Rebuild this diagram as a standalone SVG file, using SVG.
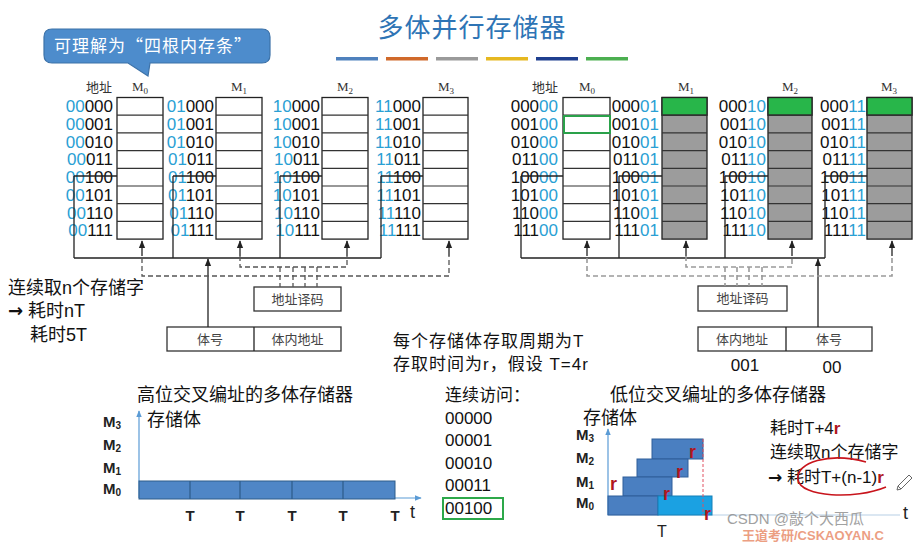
<svg xmlns="http://www.w3.org/2000/svg" width="918" height="542" viewBox="0 0 918 542">
<defs>
<marker id="ah" viewBox="0 0 10 10" refX="9" refY="5" markerWidth="6" markerHeight="6" orient="auto"><path d="M0,1 L10,5 L0,9 z" fill="#222"/></marker>
<marker id="ahb" viewBox="0 0 10 10" refX="9" refY="5" markerWidth="6" markerHeight="6" orient="auto"><path d="M0,1 L10,5 L0,9 z" fill="#5b9bd5"/></marker>
</defs>
<style>
.addr{font-family:"Liberation Sans","DejaVu Sans",sans-serif;font-size:17px;fill:#111;text-anchor:end}
.c{fill:#2aa0d4}
.box{fill:#fff;stroke:#222;stroke-width:1.3}
.gbox{fill:#9c9c9c;stroke:#222;stroke-width:1.3}
.grn{fill:#28b64a;stroke:#222;stroke-width:1.3}
.rl{fill:none;stroke:#333;stroke-width:1.2}
.hdr{font-family:"Liberation Serif","Noto Sans CJK SC",serif;font-size:13px;fill:#333;text-anchor:middle}
.zh{font-family:"Liberation Sans","Noto Sans CJK SC",sans-serif;fill:#111}
.ar{font-family:"DejaVu Sans",sans-serif;font-weight:bold}
.ln{fill:none;stroke:#222;stroke-width:1.3}
.dl{fill:none;stroke:#555;stroke-width:1.3;stroke-dasharray:5 3}
.dg{fill:none;stroke:#9a9a9a;stroke-width:1.6;stroke-dasharray:5 3}
.dbox{fill:#fff;stroke:#333;stroke-width:1.3}
.bt{font-family:"Noto Sans CJK SC",sans-serif;font-size:13px;fill:#444;text-anchor:middle}
.ml{font-family:"Liberation Sans",sans-serif;font-size:15px;font-weight:bold;fill:#222}
.red{fill:#b0161e;font-weight:bold}
.num{font-family:"Liberation Sans",sans-serif;font-size:17px;fill:#111}
</style>
<rect width="918" height="542" fill="#fff"/>

<g id="callout">
<path d="M52,29 H262 Q270,29 270,37 V55 Q270,63 262,63 H150 L148,76 L128,63 H52 Q44,63 44,55 V37 Q44,29 52,29 Z" fill="#4d8ccc" stroke="#3d72a8" stroke-width="1.2"/>
<text x="54" y="52" font-family="Noto Sans CJK SC,sans-serif" font-size="17" fill="#fff" letter-spacing="1">可理解为“四根内存条”</text>
</g>

<g id="title">
<text x="472" y="37" text-anchor="middle" font-family="Noto Sans CJK SC,sans-serif" font-size="26" fill="#2e74b5" letter-spacing="1">多体并行存储器</text>
<rect x="336" y="57" width="42" height="3.5" fill="#4f81bd"/>
<rect x="386" y="57" width="42" height="3.5" fill="#d0692a"/>
<rect x="436" y="57" width="42" height="3.5" fill="#9a9a9a"/>
<rect x="486" y="57" width="42" height="3.5" fill="#e6b820"/>
<rect x="536" y="57" width="42" height="3.5" fill="#1f3f8f"/>
<rect x="586" y="57" width="42" height="3.5" fill="#4caf50"/>
</g>

<g id="L-M0">
<text class="hdr" x="99" y="92" font-size="12">地址</text>
<text class="hdr" x="140" y="91" font-size="14">M<tspan font-size="9" dy="3">0</tspan></text>
<rect class="box" x="117" y="97.5" width="46" height="141.6"/>
<path class="rl" d="M117 115.2H163M117 132.9H163M117 150.6H163M117 168.3H163M117 186H163M117 203.7H163M117 221.4H163"/>
<text class="addr" x="113" y="112.3"><tspan class="c">00</tspan>000</text>
<text class="addr" x="113" y="130"><tspan class="c">00</tspan>001</text>
<text class="addr" x="113" y="147.7"><tspan class="c">00</tspan>010</text>
<text class="addr" x="113" y="165.4"><tspan class="c">00</tspan>011</text>
<text class="addr" x="113" y="183.1"><tspan class="c">00</tspan>100</text>
<text class="addr" x="113" y="200.8"><tspan class="c">00</tspan>101</text>
<text class="addr" x="113" y="218.5"><tspan class="c">00</tspan>110</text>
<text class="addr" x="113" y="236.2"><tspan class="c">00</tspan>111</text>
</g>
<g id="L-M1">
<text class="hdr" x="239" y="91" font-size="14">M<tspan font-size="9" dy="3">1</tspan></text>
<rect class="box" x="216" y="97.5" width="46" height="141.6"/>
<path class="rl" d="M216 115.2H262M216 132.9H262M216 150.6H262M216 168.3H262M216 186H262M216 203.7H262M216 221.4H262"/>
<text class="addr" x="214" y="112.3"><tspan class="c">01</tspan>000</text>
<text class="addr" x="214" y="130"><tspan class="c">01</tspan>001</text>
<text class="addr" x="214" y="147.7"><tspan class="c">01</tspan>010</text>
<text class="addr" x="214" y="165.4"><tspan class="c">01</tspan>011</text>
<text class="addr" x="214" y="183.1"><tspan class="c">01</tspan>100</text>
<text class="addr" x="214" y="200.8"><tspan class="c">01</tspan>101</text>
<text class="addr" x="214" y="218.5"><tspan class="c">01</tspan>110</text>
<text class="addr" x="214" y="236.2"><tspan class="c">01</tspan>111</text>
</g>
<g id="L-M2">
<text class="hdr" x="345" y="91" font-size="14">M<tspan font-size="9" dy="3">2</tspan></text>
<rect class="box" x="322" y="97.5" width="46" height="141.6"/>
<path class="rl" d="M322 115.2H368M322 132.9H368M322 150.6H368M322 168.3H368M322 186H368M322 203.7H368M322 221.4H368"/>
<text class="addr" x="320" y="112.3"><tspan class="c">10</tspan>000</text>
<text class="addr" x="320" y="130"><tspan class="c">10</tspan>001</text>
<text class="addr" x="320" y="147.7"><tspan class="c">10</tspan>010</text>
<text class="addr" x="320" y="165.4"><tspan class="c">10</tspan>011</text>
<text class="addr" x="320" y="183.1"><tspan class="c">10</tspan>100</text>
<text class="addr" x="320" y="200.8"><tspan class="c">10</tspan>101</text>
<text class="addr" x="320" y="218.5"><tspan class="c">10</tspan>110</text>
<text class="addr" x="320" y="236.2"><tspan class="c">10</tspan>111</text>
</g>
<g id="L-M3">
<text class="hdr" x="446" y="91" font-size="14">M<tspan font-size="9" dy="3">3</tspan></text>
<rect class="box" x="423" y="97.5" width="45" height="141.6"/>
<path class="rl" d="M423 115.2H468M423 132.9H468M423 150.6H468M423 168.3H468M423 186H468M423 203.7H468M423 221.4H468"/>
<text class="addr" x="421" y="112.3"><tspan class="c">11</tspan>000</text>
<text class="addr" x="421" y="130"><tspan class="c">11</tspan>001</text>
<text class="addr" x="421" y="147.7"><tspan class="c">11</tspan>010</text>
<text class="addr" x="421" y="165.4"><tspan class="c">11</tspan>011</text>
<text class="addr" x="421" y="183.1"><tspan class="c">11</tspan>100</text>
<text class="addr" x="421" y="200.8"><tspan class="c">11</tspan>101</text>
<text class="addr" x="421" y="218.5"><tspan class="c">11</tspan>110</text>
<text class="addr" x="421" y="236.2"><tspan class="c">11</tspan>111</text>
</g>
<g id="L-decoder">
<rect class="dbox" x="254" y="287" width="87" height="24"/>
<text class="bt" x="297.5" y="304">地址译码</text>
</g>
<g id="L-addrreg">
<rect class="dbox" x="167" y="327" width="174" height="24"/>
<path class="ln" d="M254 327V351"/>
<text class="bt" x="210" y="344">体号</text>
<text class="bt" x="297.5" y="344">体内地址</text>
</g>

<g id="L-connectors">
<path class="ln" d="M74 176V258M173 176V258M280 176V258M381 176V258M74 176H117M173 176H216M280 176H322M381 176H423M74 258H381"/>
<path class="ln" d="M208 327V259" marker-end="url(#ah)"/>
<path class="ln" d="M142 256V241" marker-end="url(#ah)"/>
<path class="ln" d="M240 256V241" marker-end="url(#ah)"/>
<path class="ln" d="M347 256V241" marker-end="url(#ah)"/>
<path class="ln" d="M449 256V241" marker-end="url(#ah)"/>
<path class="dl" d="M142 258V276H449V256M240 256V267H347V256M280 267V287M293 267V287M305 267V287M317 267V287"/>
</g>

<g id="L-notes">
<text class="zh" x="8" y="294" font-size="18">连续取n个存储字</text>
<text class="zh" x="8" y="317" font-size="18"><tspan class="ar">→</tspan> 耗时nT</text>
<text class="zh" x="30" y="341" font-size="18">耗时5T</text>
</g>

<g id="R-M0">
<text class="hdr" x="545" y="92" font-size="12">地址</text>
<text class="hdr" x="587" y="91" font-size="14">M<tspan font-size="9" dy="3">0</tspan></text>
<rect class="box" x="563" y="97.5" width="47" height="141.6"/>
<path class="rl" d="M563 115.2H610M563 132.9H610M563 150.6H610M563 168.3H610M563 186H610M563 203.7H610M563 221.4H610"/>
<rect x="564" y="116" width="46" height="17" fill="none" stroke="#2aa14a" stroke-width="2"/>
<text class="addr" x="558" y="112.3">000<tspan class="c">00</tspan></text>
<text class="addr" x="558" y="130">001<tspan class="c">00</tspan></text>
<text class="addr" x="558" y="147.7">010<tspan class="c">00</tspan></text>
<text class="addr" x="558" y="165.4">011<tspan class="c">00</tspan></text>
<text class="addr" x="558" y="183.1">100<tspan class="c">00</tspan></text>
<text class="addr" x="558" y="200.8">101<tspan class="c">00</tspan></text>
<text class="addr" x="558" y="218.5">110<tspan class="c">00</tspan></text>
<text class="addr" x="558" y="236.2">111<tspan class="c">00</tspan></text>
</g>
<g id="R-M1">
<text class="hdr" x="686" y="91" font-size="14">M<tspan font-size="9" dy="3">1</tspan></text>
<rect class="gbox" x="662" y="97.5" width="45" height="141.6"/>
<rect class="grn" x="662" y="97.5" width="45" height="17.7"/>
<path class="rl" d="M662 115.2H707M662 132.9H707M662 150.6H707M662 168.3H707M662 186H707M662 203.7H707M662 221.4H707"/>
<text class="addr" x="659" y="112.3">000<tspan class="c">01</tspan></text>
<text class="addr" x="659" y="130">001<tspan class="c">01</tspan></text>
<text class="addr" x="659" y="147.7">010<tspan class="c">01</tspan></text>
<text class="addr" x="659" y="165.4">011<tspan class="c">01</tspan></text>
<text class="addr" x="659" y="183.1">100<tspan class="c">01</tspan></text>
<text class="addr" x="659" y="200.8">101<tspan class="c">01</tspan></text>
<text class="addr" x="659" y="218.5">110<tspan class="c">01</tspan></text>
<text class="addr" x="659" y="236.2">111<tspan class="c">01</tspan></text>
</g>
<g id="R-M2">
<text class="hdr" x="790" y="91" font-size="14">M<tspan font-size="9" dy="3">2</tspan></text>
<rect class="gbox" x="768" y="97.5" width="44" height="141.6"/>
<rect class="grn" x="768" y="97.5" width="44" height="17.7"/>
<path class="rl" d="M768 115.2H812M768 132.9H812M768 150.6H812M768 168.3H812M768 186H812M768 203.7H812M768 221.4H812"/>
<text class="addr" x="766" y="112.3">000<tspan class="c">10</tspan></text>
<text class="addr" x="766" y="130">001<tspan class="c">10</tspan></text>
<text class="addr" x="766" y="147.7">010<tspan class="c">10</tspan></text>
<text class="addr" x="766" y="165.4">011<tspan class="c">10</tspan></text>
<text class="addr" x="766" y="183.1">100<tspan class="c">10</tspan></text>
<text class="addr" x="766" y="200.8">101<tspan class="c">10</tspan></text>
<text class="addr" x="766" y="218.5">110<tspan class="c">10</tspan></text>
<text class="addr" x="766" y="236.2">111<tspan class="c">10</tspan></text>
</g>
<g id="R-M3">
<text class="hdr" x="889" y="91" font-size="14">M<tspan font-size="9" dy="3">3</tspan></text>
<rect class="gbox" x="867" y="97.5" width="45" height="141.6"/>
<rect class="grn" x="867" y="97.5" width="45" height="17.7"/>
<path class="rl" d="M867 115.2H912M867 132.9H912M867 150.6H912M867 168.3H912M867 186H912M867 203.7H912M867 221.4H912"/>
<text class="addr" x="866" y="112.3">000<tspan class="c">11</tspan></text>
<text class="addr" x="866" y="130">001<tspan class="c">11</tspan></text>
<text class="addr" x="866" y="147.7">010<tspan class="c">11</tspan></text>
<text class="addr" x="866" y="165.4">011<tspan class="c">11</tspan></text>
<text class="addr" x="866" y="183.1">100<tspan class="c">11</tspan></text>
<text class="addr" x="866" y="200.8">101<tspan class="c">11</tspan></text>
<text class="addr" x="866" y="218.5">110<tspan class="c">11</tspan></text>
<text class="addr" x="866" y="236.2">111<tspan class="c">11</tspan></text>
</g>
<g id="R-decoder">
<rect class="dbox" x="698" y="286" width="89" height="25"/>
<text class="bt" x="742.5" y="303">地址译码</text>
</g>
<g id="R-addrreg">
<rect class="dbox" x="698" y="327" width="174" height="24"/>
<path class="ln" d="M786 327V351"/>
<text class="bt" x="742" y="344">体内地址</text>
<text class="bt" x="829" y="344">体号</text>
<text class="num" x="745" y="371" text-anchor="middle">001</text>
<text class="num" x="832" y="373" text-anchor="middle" fill="#2aa0d4">00</text>
</g>

<g id="R-connectors">
<path class="ln" d="M521 176V258M619 176V258M725 176V258M825 176V258M521 176H563M619 176H662M725 176H768M825 176H867M521 258H825"/>
<path class="ln" d="M818 327V259" marker-end="url(#ah)"/>
<path class="ln" d="M587 256V241" marker-end="url(#ah)"/>
<path class="ln" d="M686 256V241" marker-end="url(#ah)"/>
<path class="ln" d="M792 256V241" marker-end="url(#ah)"/>
<path class="ln" d="M892 256V241" marker-end="url(#ah)"/>
<path class="dg" d="M587 258V276H892V256M686 256V267H792V256M725 267V286M737 267V286M749 267V286M762 267V286"/>
</g>

<g id="mid-notes">
<text class="zh" x="393" y="347" font-size="17" letter-spacing="1">每个存储体存取周期为T</text>
<text class="zh" x="393" y="370" font-size="17" letter-spacing="1">存取时间为r，假设 T=4r</text>
<text class="zh" x="445" y="401" font-size="17">连续访问：</text>
<text class="num" x="445" y="424">00000</text>
<text class="num" x="445" y="446">00001</text>
<text class="num" x="445" y="469">00010</text>
<text class="num" x="445" y="491">00011</text>
<text class="num" x="445" y="514">00100</text>
<rect x="443" y="498" width="60" height="21" fill="none" stroke="#2da84a" stroke-width="2"/>
</g>

<g id="chart-high">
<text class="zh" x="137" y="401" font-size="18">高位交叉编址的多体存储器</text>
<text class="zh" x="147" y="426" font-size="18">存储体</text>
<text class="ml" x="103" y="427">M<tspan font-size="10" dy="2">3</tspan></text>
<text class="ml" x="103" y="450">M<tspan font-size="10" dy="2">2</tspan></text>
<text class="ml" x="103" y="473">M<tspan font-size="10" dy="2">1</tspan></text>
<text class="ml" x="103" y="494">M<tspan font-size="10" dy="2">0</tspan></text>
<path d="M139 498V411" stroke="#5b9bd5" stroke-width="1.2" marker-end="url(#ahb)"/>
<path d="M139 498H421" stroke="#5b9bd5" stroke-width="1.2" marker-end="url(#ahb)"/>
<rect x="139" y="481" width="256" height="18" fill="#4f86c6" stroke="#2e5c8a" stroke-width="1"/>
<path d="M190 481V499M240 481V499M292 481V499M343 481V499" stroke="#2e5c8a" stroke-width="1.2"/>
<g font-family="Liberation Sans,sans-serif" font-size="15" font-weight="bold" fill="#222" text-anchor="middle">
<text x="190" y="521">T</text><text x="240" y="521">T</text><text x="292" y="521">T</text><text x="343" y="521">T</text><text x="395" y="521">T</text>
</g>
<text x="410" y="518" font-family="Liberation Sans,sans-serif" font-size="18" fill="#222">t</text>
</g>

<g id="chart-low">
<text class="zh" x="610" y="401" font-size="18">低位交叉编址的多体存储器</text>
<text class="zh" x="583" y="424" font-size="18">存储体</text>
<text class="ml" x="576" y="440">M<tspan font-size="10" dy="2">3</tspan></text>
<text class="ml" x="576" y="463">M<tspan font-size="10" dy="2">2</tspan></text>
<text class="ml" x="576" y="487">M<tspan font-size="10" dy="2">1</tspan></text>
<text class="ml" x="576" y="508">M<tspan font-size="10" dy="2">0</tspan></text>
<path d="M608 515V429" stroke="#5b9bd5" stroke-width="1.2" marker-end="url(#ahb)"/>
<path d="M608 515H900" stroke="#b8cfe6" stroke-width="1.2"/>
<rect x="652" y="439" width="51" height="20" fill="#4a7fc1" stroke="#2f5f9a"/>
<rect x="637" y="459" width="51" height="18" fill="#4a7fc1" stroke="#2f5f9a"/>
<rect x="623" y="477" width="49" height="19" fill="#4a7fc1" stroke="#2f5f9a"/>
<rect x="608" y="496" width="50" height="19" fill="#4a7fc1" stroke="#2f5f9a"/>
<rect x="658" y="496" width="54" height="19" fill="#1ba1e2" stroke="#1580b8"/>
<path d="M703 439V515" stroke="#e05060" stroke-width="1" stroke-dasharray="3 2"/>
<g font-family="Liberation Sans,sans-serif" font-size="18" class="red">
<text x="610" y="490">r</text>
<text x="663" y="500">r</text>
<text x="676" y="478">r</text>
<text x="689" y="458">r</text>
<text x="704" y="520">r</text>
</g>
<text x="662" y="537" text-anchor="middle" font-family="Liberation Sans,sans-serif" font-size="16" fill="#222">T</text>
<text x="903" y="519" font-family="Liberation Sans,sans-serif" font-size="18" fill="#222">t</text>
</g>

<g id="low-notes">
<text class="zh" x="770" y="434" font-size="17">耗时T+4<tspan class="red">r</tspan></text>
<text class="zh" x="770" y="458" font-size="17">连续取n个存储字</text>
<text class="zh" x="768" y="483" font-size="17"><tspan class="ar">→</tspan> 耗时T+(n-1)<tspan class="red">r</tspan></text>
<path d="M866 462 C830 452 795 462 798 480 C801 497 855 500 886 487" fill="none" stroke="#c8141c" stroke-width="1.6"/>
<path d="M898 486 L909 475 L912 478 L901 489 Z M898 486 L897 490 L901 489" fill="none" stroke="#666" stroke-width="1"/>
</g>

<g id="watermark">
<text x="727" y="524" font-family="Liberation Sans,Noto Sans CJK SC,sans-serif" font-size="15" fill="#8a8a8a" opacity="0.8">CSDN @敲个大西瓜</text>
<text x="742" y="540" font-family="Liberation Sans,Noto Sans CJK SC,sans-serif" font-size="13" font-weight="bold" fill="#e06030" opacity="0.6">王道考研/CSKAOYAN.C</text>
</g>
</svg>
